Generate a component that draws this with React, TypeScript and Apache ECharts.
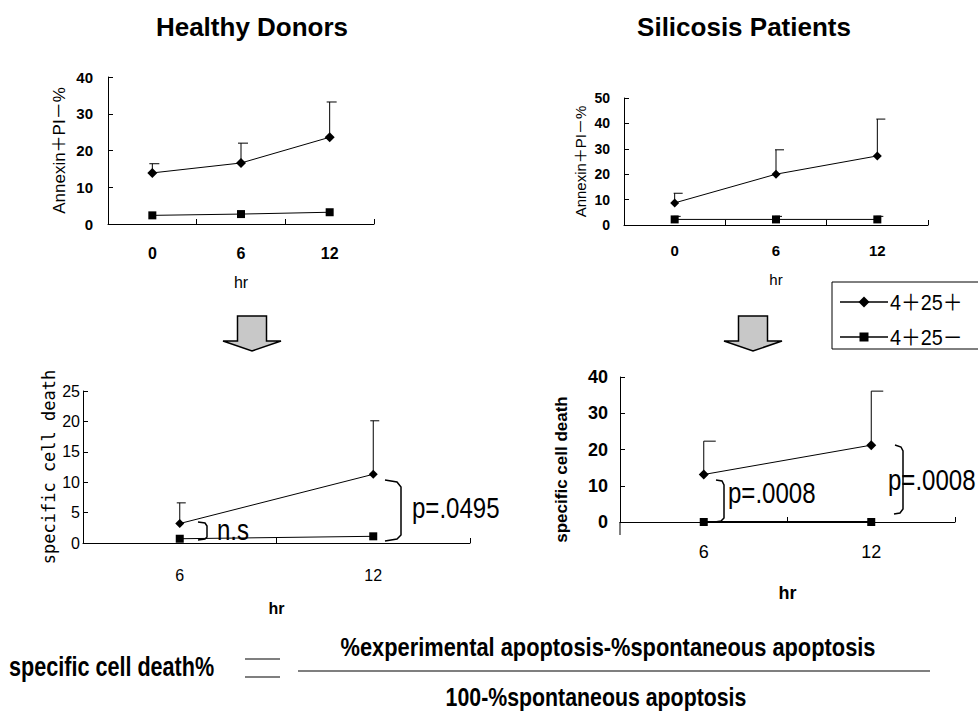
import React, { useEffect, useRef } from "react";
import * as echarts from "echarts";

// ---- data ----
const hours3 = ["0", "6", "12"];
const hours2 = ["6", "12"];

// Healthy donors, Annexin+PI-%
const hdAnnexPos = [13.9, 16.6, 23.6];
const hdAnnexPosSD = [2.5, 5.4, 9.6];
const hdAnnexNeg = [2.35, 2.7, 3.2];

// Silicosis patients, Annexin+PI-%
const spAnnexPos = [8.7, 20.0, 27.2];
const spAnnexPosSD = [3.8, 9.6, 14.5];
const spAnnexNeg = [2.2, 2.2, 2.2];
const spAnnexNegSD = [1.2, 1.2, 1.2];

// Healthy donors, specific cell death
const hdSpecPos = [3.2, 11.3];
const hdSpecPosSD = [3.4, 8.8];
const hdSpecNeg = [0.7, 1.1];

// Silicosis patients, specific cell death
const spSpecPos = [13.1, 21.2];
const spSpecPosSD = [9.2, 14.9];
const spSpecNeg = [0, 0];

const legendNames = ["4＋25＋", "4＋25－"];
const annexName = "Annexin＋PI－%";
const specName = "specific cell death";

const SANS = "'Liberation Sans', Arial, 'Noto Sans CJK JP', sans-serif";
const MONO = "'DejaVu Sans Mono', 'Liberation Mono', monospace";
const BLACK = "#000";

function errData(vals: number[], sd: number[]) {
  return vals.map((v, i) => [i, v, v + sd[i]]);
}

function errRender(capL: number, capR: number) {
  return (params: any, api: any) => {
    const base = api.coord([api.value(0), api.value(1)]);
    const top = api.coord([api.value(0), api.value(2)]);
    return {
      type: "group",
      children: [
        { type: "line", shape: { x1: base[0], y1: base[1], x2: top[0], y2: top[1] }, style: { stroke: BLACK, lineWidth: 1 } },
        { type: "line", shape: { x1: top[0] - capL, y1: top[1], x2: top[0] + capR, y2: top[1] }, style: { stroke: BLACK, lineWidth: 1 } },
      ],
    };
  };
}

function xAx(gi: number, data: string[], o: any) {
  return {
    type: "category",
    gridIndex: gi,
    data,
    boundaryGap: true,
    axisLine: { lineStyle: { color: BLACK, width: 1 } },
    axisTick: { show: true, inside: true, length: 5, lineStyle: { color: BLACK } },
    axisLabel: { color: BLACK, margin: o.margin, fontSize: o.fontSize, fontWeight: o.fontWeight, fontFamily: SANS },
    splitLine: { show: false },
    name: "hr",
    nameLocation: "middle",
    nameGap: o.nameGap,
    nameTextStyle: { color: BLACK, fontSize: o.nameSize, fontWeight: o.nameWeight, fontFamily: SANS },
  };
}

function yAx(gi: number, max: number, interval: number, name: string, o: any) {
  return {
    type: "value",
    gridIndex: gi,
    min: 0,
    max,
    interval,
    axisLine: { show: true, lineStyle: { color: BLACK, width: 1 } },
    axisTick: { show: true, inside: true, length: 5, lineStyle: { color: BLACK } },
    axisLabel: { color: BLACK, margin: o.margin, fontSize: o.fontSize, fontWeight: o.fontWeight, fontFamily: SANS },
    splitLine: { show: false },
    name,
    nameLocation: "middle",
    nameGap: o.nameGap,
    nameTextStyle: {
      color: BLACK,
      fontSize: o.nameSize,
      fontWeight: o.nameWeight,
      fontFamily: o.nameFamily || SANS,
      padding: o.namePadding || 0,
    },
  };
}

function lineSeries(gi: number, name: string, data: number[], symbol: string, size: number, width = 1) {
  return {
    type: "line",
    name,
    xAxisIndex: gi,
    yAxisIndex: gi,
    data,
    symbol,
    symbolSize: size,
    itemStyle: { color: BLACK },
    lineStyle: { color: BLACK, width },
    z: 3,
  };
}

function errSeries(gi: number, vals: number[], sd: number[], capL: number, capR: number) {
  return {
    type: "custom",
    xAxisIndex: gi,
    yAxisIndex: gi,
    data: errData(vals, sd),
    encode: { x: 0, y: [1, 2] },
    renderItem: errRender(capL, capR),
    z: 2,
    silent: true,
  };
}

function bracket(points: number[][]) {
  return { type: "polyline", shape: { points }, style: { stroke: BLACK, lineWidth: 1.5, fill: null } };
}

function txt(x: number, y: number, text: string, font: string, align = "left", scaleX = 1) {
  return { type: "text", x, y, scaleX, style: { text, font, fill: BLACK, align, verticalAlign: "middle" } };
}

function arrow(cx: number) {
  return {
    type: "polygon",
    shape: {
      points: [
        [cx - 14.5, 316], [cx + 14.5, 316], [cx + 14.5, 341], [cx + 29, 341],
        [cx, 351], [cx - 29, 341], [cx - 14.5, 341],
      ],
    },
    style: { fill: "#c8c8c8", stroke: BLACK, lineWidth: 1.5 },
  };
}

export default function App() {
  const ref = useRef<HTMLDivElement>(null);
  useEffect(() => {
    if (!ref.current) return;
    const chart = echarts.init(ref.current, null, { renderer: "svg" });
    const option: any = {
      animation: false,
      backgroundColor: "#fff",
      grid: [
        { left: 108, top: 77, width: 266, height: 147 },
        { left: 624, top: 98, width: 304, height: 127 },
        { left: 83, top: 391, width: 387, height: 152 },
        { left: 620, top: 377, width: 335, height: 145 },
      ],
      xAxis: [
        xAx(0, hours3, { margin: 21, fontSize: 16, fontWeight: "bold", nameGap: 50, nameSize: 16, nameWeight: "normal" }),
        xAx(1, hours3, { margin: 18, fontSize: 15, fontWeight: "bold", nameGap: 47, nameSize: 15, nameWeight: "normal" }),
        xAx(2, hours2, { margin: 24, fontSize: 16, fontWeight: "normal", nameGap: 57, nameSize: 16, nameWeight: "bold" }),
        xAx(3, hours2, { margin: 21, fontSize: 18, fontWeight: "normal", nameGap: 62, nameSize: 18, nameWeight: "bold" }),
      ],
      yAxis: [
        yAx(0, 40, 10, annexName, { margin: 15, fontSize: 15, fontWeight: "bold", nameGap: 40, nameSize: 17, nameWeight: "normal" }),
        yAx(1, 50, 10, annexName, { margin: 14, fontSize: 14, fontWeight: "bold", nameGap: 36, nameSize: 15, nameWeight: "normal" }),
        yAx(2, 25, 5, specName, { margin: 3, fontSize: 16, fontWeight: "normal", nameGap: 26, nameSize: 17, nameWeight: "normal", nameFamily: MONO }),
        yAx(3, 40, 10, specName, { margin: 12, fontSize: 18, fontWeight: "bold", nameGap: 50, nameSize: 17, nameWeight: "bold", namePadding: [0, 40, 0, 0] }),
      ],
      series: [
        errSeries(0, hdAnnexPos, hdAnnexPosSD, 3, 7),
        lineSeries(0, legendNames[0], hdAnnexPos, "diamond", 10),
        lineSeries(0, legendNames[1], hdAnnexNeg, "rect", 8),

        errSeries(1, spAnnexPos, spAnnexPosSD, 1, 8),
        errSeries(1, spAnnexNeg, spAnnexNegSD, 1, 6),
        lineSeries(1, legendNames[0], spAnnexPos, "diamond", 9),
        lineSeries(1, legendNames[1], spAnnexNeg, "rect", 8),

        errSeries(2, hdSpecPos, hdSpecPosSD, 3, 6),
        lineSeries(2, legendNames[0], hdSpecPos, "diamond", 9),
        lineSeries(2, legendNames[1], hdSpecNeg, "rect", 8),

        errSeries(3, spSpecPos, spSpecPosSD, 0, 12),
        lineSeries(3, legendNames[0], spSpecPos, "diamond", 10),
        lineSeries(3, legendNames[1], spSpecNeg, "rect", 8, 2),
      ],
      graphic: [
        // titles
        txt(252, 27, "Healthy Donors", `bold 26px ${SANS}`, "center"),
        txt(744, 27, "Silicosis Patients", `bold 26px ${SANS}`, "center"),
        // arrows
        arrow(252),
        arrow(753),
        // extended y-axis below zero (bottom right)
        { type: "line", shape: { x1: 620, y1: 522, x2: 620, y2: 535 }, style: { stroke: BLACK, lineWidth: 1 } },
        // legend
        { type: "rect", shape: { x: 832, y: 282, width: 160, height: 67 }, style: { fill: "#fff", stroke: BLACK, lineWidth: 1 } },
        { type: "line", shape: { x1: 840, y1: 302, x2: 888, y2: 302 }, style: { stroke: BLACK, lineWidth: 1.5 } },
        { type: "polygon", shape: { points: [[864, 296.5], [869.5, 302], [864, 307.5], [858.5, 302]] }, style: { fill: BLACK } },
        txt(890, 302, legendNames[0], `22px ${SANS}`, "left", 0.9),
        { type: "line", shape: { x1: 840, y1: 337, x2: 888, y2: 337 }, style: { stroke: BLACK, lineWidth: 1.5 } },
        { type: "rect", shape: { x: 859.5, y: 332.5, width: 9, height: 9 }, style: { fill: BLACK } },
        txt(890, 337, legendNames[1], `22px ${SANS}`, "left", 0.9),
        // brackets and p-values
        bracket([[198, 522], [205, 523], [207, 526], [207, 537], [205, 539], [198, 540]]),
        txt(217, 530, "n.s", `29px ${SANS}`, "left", 0.83),
        bracket([[385, 480], [397, 482], [401, 487], [401, 535], [397, 539], [385, 541]]),
        txt(412, 508, "p=.0495", `29px ${SANS}`, "left", 0.83),
        bracket([[716, 480], [722, 481], [724, 485], [724, 518], [721, 521], [715, 522]]),
        txt(728, 493, "p=.0008", `29px ${SANS}`, "left", 0.83),
        bracket([[895, 445], [901, 447], [903, 451], [903, 509], [900, 513], [894, 514]]),
        txt(888, 480, "p=.0008", `29px ${SANS}`, "left", 0.83),
        // formula
        txt(9, 667, "specific cell death%", `bold 27px ${SANS}`, "left", 0.8),
        { type: "line", shape: { x1: 245, y1: 659, x2: 280, y2: 659 }, style: { stroke: BLACK, lineWidth: 1.2 } },
        { type: "line", shape: { x1: 245, y1: 677, x2: 280, y2: 677 }, style: { stroke: BLACK, lineWidth: 1.2 } },
        { type: "line", shape: { x1: 298, y1: 671, x2: 930, y2: 671 }, style: { stroke: BLACK, lineWidth: 1.2 } },
        txt(608, 647, "%experimental apoptosis-%spontaneous apoptosis", `bold 26px ${SANS}`, "center", 0.84),
        txt(596, 697, "100-%spontaneous apoptosis", `bold 26px ${SANS}`, "center", 0.82),
      ],
    };
    chart.setOption(option);
    return () => chart.dispose();
  }, []);
  return <div ref={ref} style={{ position: "absolute", left: 0, top: 0, width: 978, height: 711, background: "#fff" }} />;
}
